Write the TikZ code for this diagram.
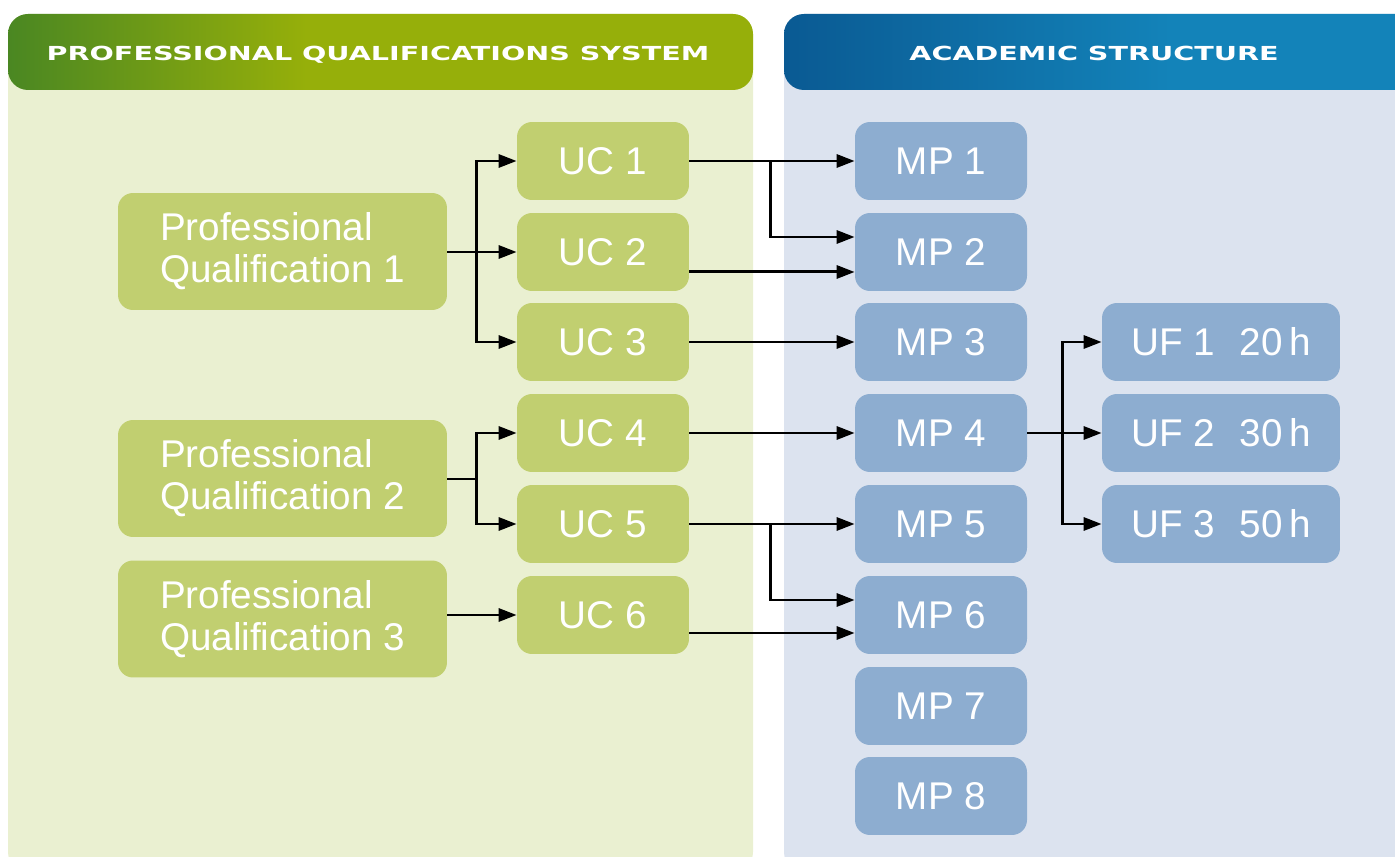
\documentclass[tikz,border=0pt]{standalone}
\usepackage{fontspec}
\setmainfont{Liberation Sans}
\newfontfamily\headfont[FakeStretch=1.48]{DejaVu Sans}
\usetikzlibrary{arrows.meta}

\definecolor{panelgreen}{HTML}{EAF0D1}
\definecolor{panelblue}{HTML}{DCE3EF}
\definecolor{boxgreen}{HTML}{C1CF70}
\definecolor{boxblue}{HTML}{8DADD0}
\definecolor{headgreenA}{HTML}{4A8722}
\definecolor{headgreenB}{HTML}{96AF0A}
\definecolor{headblueA}{HTML}{0A5A93}
\definecolor{headblueB}{HTML}{1383B9}

\pgfdeclarehorizontalshading{greenhead}{100bp}{color(0bp)=(headgreenA); color(25bp)=(headgreenA); color(45bp)=(headgreenB); color(100bp)=(headgreenB)}
\pgfdeclarehorizontalshading{bluehead}{100bp}{color(0bp)=(headblueA); color(25bp)=(headblueA); color(55bp)=(headblueB); color(100bp)=(headblueB)}

\begin{document}
\begin{tikzpicture}[x=0.02cm, y=-0.02cm]
    \tikzstyle{panel} = [rounded corners=0.4cm]
    \tikzstyle{head} = [text=white, anchor=base, font=\headfont\bfseries\fontsize{11}{13}\selectfont]
    \tikzstyle{box} = [rounded corners=0.3cm, text=white, font=\fontsize{22}{24}\selectfont, minimum width=3.44cm, minimum height=1.56cm, inner sep=0pt]
    \tikzstyle{green box} = [box, fill=boxgreen]
    \tikzstyle{pq box} = [green box, align=left, minimum width=6.58cm, minimum height=2.34cm]
    \tikzstyle{blue box} = [box, fill=boxblue]
    \tikzstyle{uf box} = [blue box, minimum width=4.76cm]
    \tikzstyle{flow} = [draw=black, line width=1.7pt, -{Triangle[length=0.36cm, width=0.26cm]}]
\clip (0,0) rectangle (1395,857);
\fill[panelgreen, panel] (8,14) rectangle (753,872);
\fill[panelblue, panel] (784,14) rectangle (1430,872);
\shade[shading=greenhead, panel] (8,14) rectangle (753,90);
\shade[shading=bluehead, panel] (784,14) rectangle (1430,90);
\node[head] (qshead) at (378,61) {PROFESSIONAL QUALIFICATIONS SYSTEM};
\node[head] (ashead) at (1094,61) {ACADEMIC STRUCTURE};
\node[pq box] (pq1) at (282.5,251.5) {Professional\\Qualification 1};
\node[pq box] (pq2) at (282.5,478.5) {Professional\\Qualification 2};
\node[pq box] (pq3) at (282.5,619) {Professional\\Qualification 3};
\node[green box] (uc1) at (603,161) {UC 1};
\node[green box] (uc2) at (603,252) {UC 2};
\node[green box] (uc3) at (603,342) {UC 3};
\node[green box] (uc4) at (603,433) {UC 4};
\node[green box] (uc5) at (603,524) {UC 5};
\node[green box] (uc6) at (603,615) {UC 6};
\node[blue box] (mp1) at (941,161) {MP 1};
\node[blue box] (mp2) at (941,252) {MP 2};
\node[blue box] (mp3) at (941,342) {MP 3};
\node[blue box] (mp4) at (941,433) {MP 4};
\node[blue box] (mp5) at (941,524) {MP 5};
\node[blue box] (mp6) at (941,615) {MP 6};
\node[blue box] (mp7) at (941,706) {MP 7};
\node[blue box] (mp8) at (941,796) {MP 8};
\node[uf box] (uf1) at (1221,342) {UF 1\hspace{0.5cm}20\,h};
\node[uf box] (uf2) at (1221,433) {UF 2\hspace{0.5cm}30\,h};
\node[uf box] (uf3) at (1221,524) {UF 3\hspace{0.5cm}50\,h};
\coordinate (pqfork1) at (476,252);
\coordinate (pqfork2) at (476,479);
\coordinate (ucfork1) at (770,161);
\coordinate (ucfork5) at (770,524);
\coordinate (mpfork4) at (1062,433);
\draw[flow] (pq1.east |- uc2) -- (uc2.west);
\draw[flow] (pqfork1) |- (uc1.west);
\draw[flow] (pqfork1) |- (uc3.west);
\draw[line width=1.7pt] (pq2.east |- pqfork2) -- (pqfork2);
\draw[flow] (pqfork2) |- (uc4.west);
\draw[flow] (pqfork2) |- (uc5.west);
\draw[flow] (pq3.east |- uc6) -- (uc6.west);
\draw[flow] (uc1) -- (mp1);
\draw[flow] (ucfork1) |- ([yshift=0.3cm]mp2.west);
\draw[flow] ([yshift=-0.4cm]uc2.east) -- ([yshift=-0.4cm]mp2.west);
\draw[flow] (uc3) -- (mp3);
\draw[flow] (uc4) -- (mp4);
\draw[flow] (uc5) -- (mp5);
\draw[flow] (ucfork5) |- ([yshift=0.3cm]mp6.west);
\draw[flow] ([yshift=-0.36cm]uc6.east) -- ([yshift=-0.36cm]mp6.west);
\draw[flow] (mp4) -- (uf2);
\draw[flow] (mpfork4) |- (uf1.west);
\draw[flow] (mpfork4) |- (uf3.west);
\end{tikzpicture}
\end{document}
